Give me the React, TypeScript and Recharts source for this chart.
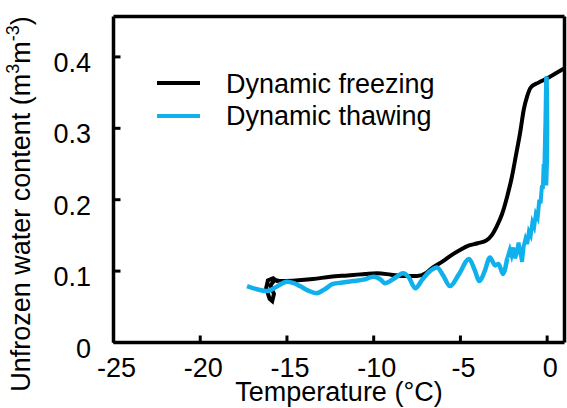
import React from 'react';
import { LineChart, Line, XAxis, YAxis, Legend, ReferenceLine } from 'recharts';

// Temperature (°C) / unfrozen water content (m3/m3)
const freezeLoop = [
  { t: -15.5, v: 0.085 }, { t: -15.8, v: 0.09 }, { t: -16.1, v: 0.087 },
  { t: -16.2, v: 0.076 }, { t: -16.0, v: 0.061 }, { t: -15.85, v: 0.058 },
  { t: -15.75, v: 0.068 }, { t: -15.95, v: 0.08 }, { t: -15.7, v: 0.088 },
  { t: -15.4, v: 0.086 },
];

const freezeCurve = [
  { t: -15.4, v: 0.086 }, { t: -14.5, v: 0.087 }, { t: -13.5, v: 0.089 },
  { t: -12.5, v: 0.092 }, { t: -11.5, v: 0.094 }, { t: -10.5, v: 0.096 },
  { t: -9.8, v: 0.097 }, { t: -9.0, v: 0.095 }, { t: -8.3, v: 0.093 },
  { t: -7.5, v: 0.093 }, { t: -7.0, v: 0.097 }, { t: -6.6, v: 0.105 },
  { t: -6.0, v: 0.114 }, { t: -5.6, v: 0.121 }, { t: -5.0, v: 0.13 },
  { t: -4.5, v: 0.136 }, { t: -4.0, v: 0.139 }, { t: -3.5, v: 0.143 },
  { t: -3.2, v: 0.15 }, { t: -2.9, v: 0.163 }, { t: -2.6, v: 0.18 },
  { t: -2.3, v: 0.205 }, { t: -2.05, v: 0.23 }, { t: -1.8, v: 0.262 },
  { t: -1.55, v: 0.295 }, { t: -1.35, v: 0.326 }, { t: -1.15, v: 0.345 },
  { t: -0.95, v: 0.357 }, { t: -0.5, v: 0.364 }, { t: 0.0, v: 0.37 },
  { t: 0.5, v: 0.377 }, { t: 1.0, v: 0.384 },
];

const thawCurve = [
  { t: -17.3, v: 0.079 }, { t: -16.8, v: 0.075 }, { t: -16.15, v: 0.072 },
  { t: -15.6, v: 0.078 }, { t: -15.0, v: 0.085 }, { t: -14.6, v: 0.083 },
  { t: -14.25, v: 0.079 }, { t: -13.8, v: 0.073 }, { t: -13.3, v: 0.069 },
  { t: -12.8, v: 0.075 }, { t: -12.35, v: 0.082 }, { t: -11.8, v: 0.084 },
  { t: -11.2, v: 0.086 }, { t: -10.6, v: 0.088 }, { t: -10.0, v: 0.092 },
  { t: -9.6, v: 0.088 }, { t: -9.35, v: 0.083 }, { t: -8.8, v: 0.09 },
  { t: -8.3, v: 0.097 }, { t: -8.0, v: 0.092 }, { t: -7.6, v: 0.076 },
  { t: -7.2, v: 0.088 }, { t: -6.8, v: 0.099 }, { t: -6.35, v: 0.105 },
  { t: -6.0, v: 0.094 }, { t: -5.6, v: 0.079 }, { t: -5.1, v: 0.095 },
  { t: -4.5, v: 0.117 }, { t: -4.2, v: 0.103 }, { t: -3.9, v: 0.086 },
  { t: -3.6, v: 0.1 }, { t: -3.3, v: 0.119 }, { t: -3.0, v: 0.108 },
  { t: -2.8, v: 0.11 }, { t: -2.55, v: 0.096 }, { t: -2.3, v: 0.118 },
];

const thawNoise = [
  { t: -2.3, v: 0.118 }, { t: -2.15, v: 0.13 }, { t: -2.05, v: 0.122 },
  { t: -1.95, v: 0.133 }, { t: -1.85, v: 0.118 }, { t: -1.75, v: 0.125 },
  { t: -1.65, v: 0.14 }, { t: -1.55, v: 0.128 }, { t: -1.45, v: 0.113 },
  { t: -1.35, v: 0.135 }, { t: -1.25, v: 0.145 }, { t: -1.15, v: 0.138 },
  { t: -1.05, v: 0.155 }, { t: -0.95, v: 0.15 }, { t: -0.85, v: 0.168 },
  { t: -0.75, v: 0.162 }, { t: -0.65, v: 0.18 }, { t: -0.55, v: 0.175 },
  { t: -0.45, v: 0.2 }, { t: -0.38, v: 0.195 }, { t: -0.3, v: 0.22 },
  { t: -0.25, v: 0.215 }, { t: -0.2, v: 0.25 }, { t: -0.16, v: 0.245 },
  { t: -0.12, v: 0.29 }, { t: -0.1, v: 0.31 }, { t: -0.08, v: 0.34 },
  { t: -0.06, v: 0.37 }, { t: -0.02, v: 0.372 }, { t: 0.0, v: 0.34 },
  { t: 0.01, v: 0.3 }, { t: 0.0, v: 0.26 }, { t: -0.05, v: 0.22 },
];

const xTicks = [-25, -20, -15, -10, -5, 0];
const yTicks = [0, 0.1, 0.2, 0.3, 0.4];
const xMin = -25;
const xMax = 1;
const yMax = 0.4566;

const BLACK = '#000000';
const BLUE = '#0fb0ec';
const FONT = '"Liberation Sans", Arial, sans-serif';

const XTick = ({ x, y, payload }: any) => (
  <text x={x + 3} y={y + 41.5} textAnchor="middle" fontSize={27} fontFamily={FONT} fill="#000">
    {payload.value}
  </text>
);

const YTick = ({ x, y, payload }: any) => (
  <text x={x - 29.5} y={y + 15} textAnchor="end" fontSize={27} fontFamily={FONT} fill="#000">
    {payload.value}
  </text>
);

const XTitle = ({ viewBox }: any) => (
  <text x={viewBox.x + viewBox.width / 2} y={401} textAnchor="middle" fontSize={27} fontFamily={FONT} fill="#000">
    Temperature (°C)
  </text>
);

const YTitle = () => (
  <text transform="translate(30,204) rotate(-90)" textAnchor="middle" fontSize={27} fontFamily={FONT} fill="#000">
    Unfrozen water content (m<tspan fontSize={18} dy={-11}>3</tspan>
    <tspan dy={11}>m</tspan>
    <tspan fontSize={18} dy={-11}>-3</tspan>
    <tspan dy={11}>)</tspan>
  </text>
);

const LegendBox = () => (
  <svg width={567} height={140} style={{ display: 'block' }}>
    <line x1={157} x2={200} y1={83} y2={83} stroke={BLACK} strokeWidth={4} />
    <text x={226} y={93} fontSize={27} fontFamily={FONT} fill="#000">Dynamic freezing</text>
    <line x1={157} x2={200} y1={116} y2={116} stroke={BLUE} strokeWidth={4} />
    <text x={226} y={125} fontSize={27} fontFamily={FONT} fill="#000">Dynamic thawing</text>
  </svg>
);

export default function App() {
  return (
    <div style={{ position: 'absolute', left: 0, top: 0, width: 567, height: 408, background: '#fff' }}>
      <LineChart width={567} height={408} margin={{ top: 16.5, right: 2.5, bottom: 0, left: 0 }}>
        <XAxis
          type="number"
          dataKey="t"
          domain={[xMin, xMax]}
          ticks={xTicks}
          allowDataOverflow
          height={65.5}
          axisLine={{ stroke: BLACK, strokeWidth: 3.5 }}
          tickLine={{ stroke: BLACK, strokeWidth: 3 }}
          tickSize={-7}
          tickMargin={0}
          tick={<XTick />}
          label={<XTitle />}
        />
        <YAxis
          type="number"
          domain={[0, yMax]}
          ticks={yTicks}
          allowDataOverflow
          width={113.5}
          axisLine={{ stroke: BLACK, strokeWidth: 3.5 }}
          tickLine={{ stroke: BLACK, strokeWidth: 3 }}
          tickSize={-7}
          tickMargin={0}
          tick={<YTick />}
          label={<YTitle />}
        />
        <ReferenceLine y={yMax} stroke={BLACK} strokeWidth={3.5} ifOverflow="visible" />
        <ReferenceLine x={xMax} stroke={BLACK} strokeWidth={3.5} ifOverflow="visible" />
        <Legend
          layout="horizontal"
          verticalAlign="middle"
          align="center"
          content={() => <LegendBox />}
          wrapperStyle={{ left: 0, top: 0, width: 567, height: 140 }}
        />
        <Line data={freezeLoop} dataKey="v" type="linear" stroke={BLACK} strokeWidth={4} dot={false} isAnimationActive={false} legendType="none" />
        <Line data={freezeCurve} dataKey="v" type="monotone" stroke={BLACK} strokeWidth={4} dot={false} isAnimationActive={false} name="Dynamic freezing" />
        <Line data={thawCurve} dataKey="v" type="monotone" stroke={BLUE} strokeWidth={4.5} dot={false} isAnimationActive={false} name="Dynamic thawing" />
        <Line data={thawNoise} dataKey="v" type="linear" stroke={BLUE} strokeWidth={4} dot={false} isAnimationActive={false} legendType="none" />
      </LineChart>
    </div>
  );
}
